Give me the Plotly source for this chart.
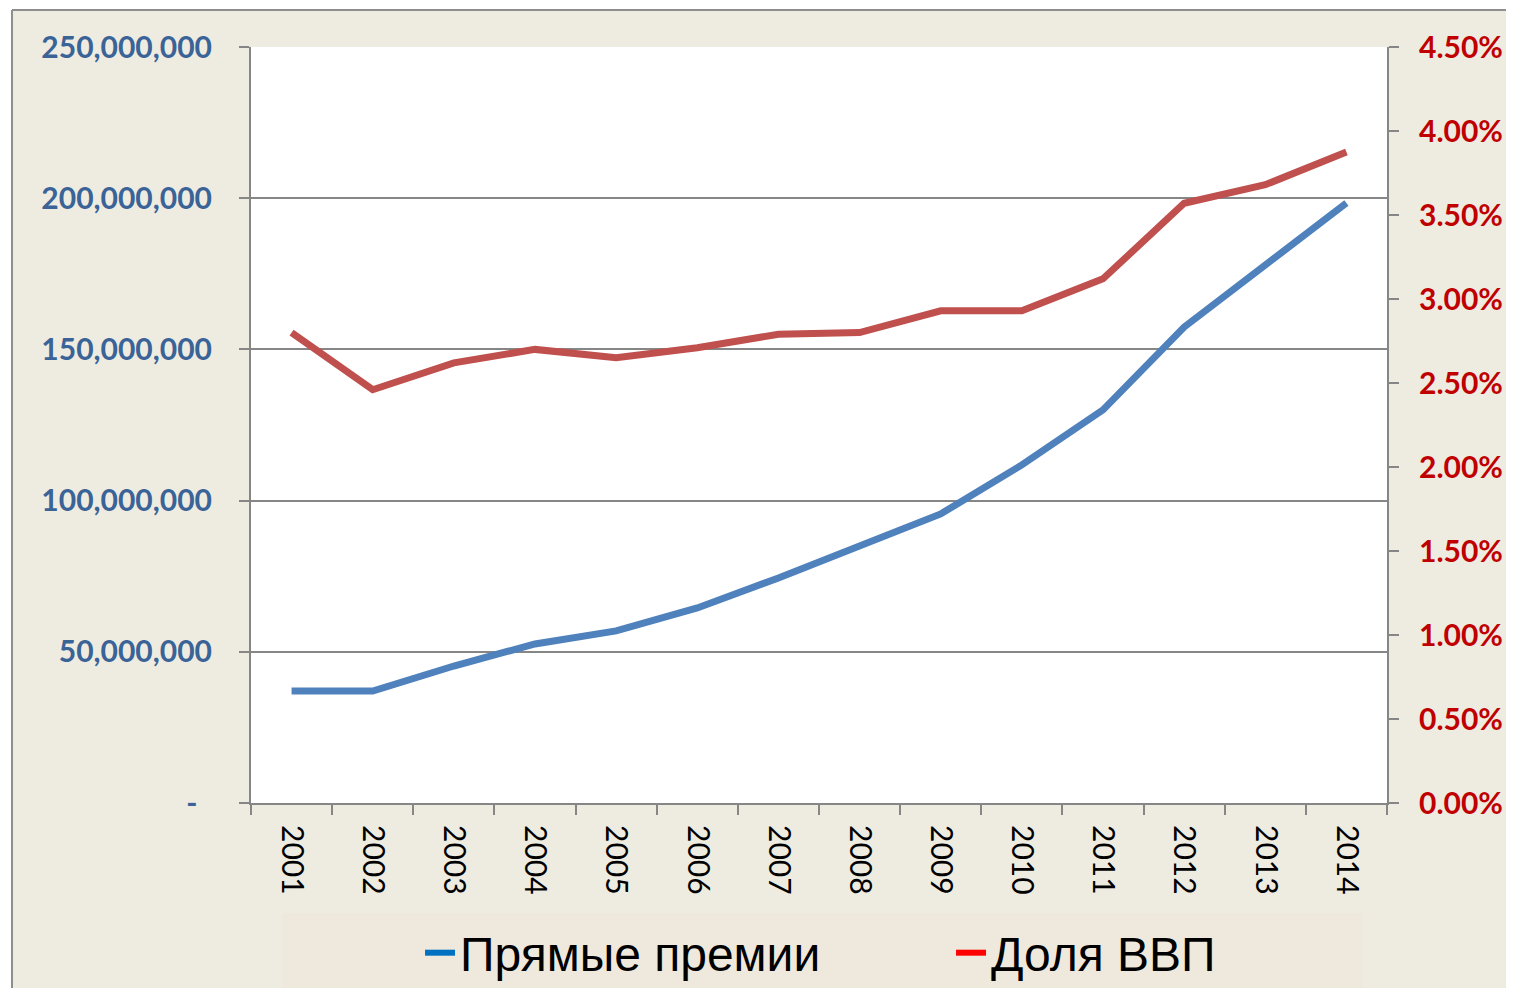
import plotly.graph_objects as go

years = [str(y) for y in range(2001, 2015)]
premiums = [37.0e6, 37.0e6, 45.3e6, 52.6e6, 56.9e6, 64.5e6, 74.4e6, 85.3e6,
            95.6e6, 111.8e6, 130.0e6, 157.4e6, 178.2e6, 198.4e6]
gdp_share = [0.0280, 0.0246, 0.0262, 0.0270, 0.0265, 0.0271, 0.0279, 0.0280,
             0.0293, 0.0293, 0.0312, 0.0357, 0.0368, 0.03875]
series_names = ["Прямые премии", "Доля ВВП"]

left_tickvals = [0, 50e6, 100e6, 150e6, 200e6, 250e6]
left_ticktext = ["-\u00a0\u00a0", "50,000,000", "100,000,000", "150,000,000",
                 "200,000,000", "250,000,000"]
right_tickvals = [0.005 * i for i in range(10)]
right_ticktext = ["%.2f%%" % (v * 100) for v in right_tickvals]

W, H = 1498, 980
L, R, T, B = 243, 119, 39, 185
PW, PH = W - L - R, H - T - B

fig = go.Figure()
fig.add_trace(go.Scatter(x=years, y=premiums, name=series_names[0], mode="lines",
                         line=dict(color="#4F81BD", width=7), showlegend=False))
fig.add_trace(go.Scatter(x=years, y=gdp_share, name=series_names[1], mode="lines",
                         line=dict(color="#C0504D", width=7), yaxis="y2", showlegend=False))
# legend entries (the source chart uses brighter legend swatches)
fig.add_trace(go.Scatter(x=[None], y=[None], name=series_names[0], mode="lines",
                         line=dict(color="#0070C0", width=6), hoverinfo="skip"))
fig.add_trace(go.Scatter(x=[None], y=[None], name=series_names[1], mode="lines",
                         line=dict(color="#FF0000", width=6), yaxis="y2", hoverinfo="skip"))

grid = "#868686"
bx = (4 - L) / PW
by = (T + PH - 2) / PH
fig.update_layout(
    width=W, height=H,
    margin=dict(l=L, r=R, t=T, b=B, autoexpand=False),
    paper_bgcolor="#EEECE1",
    plot_bgcolor="white",
    font=dict(family="Lato", color="black"),
    xaxis=dict(type="category", range=[-0.5, 13.5], tickson="boundaries",
               ticks="outside", ticklen=10, automargin=False, ticklabelstandoff=14,
               tickwidth=2, tickcolor=grid, showline=True, linecolor=grid, linewidth=2,
               showgrid=False, tickangle=90,
               tickfont=dict(family="Lato", size=30, color="black")),
    yaxis=dict(range=[0, 250e6], tickvals=left_tickvals, ticktext=left_ticktext,
               ticks="outside", ticklen=10, tickwidth=2, tickcolor=grid, automargin=False,
               showline=True, linecolor=grid, linewidth=2, zeroline=False,
               showgrid=True, gridcolor=grid, gridwidth=1.5,
               ticklabelstandoff=21,
               tickfont=dict(family="Lato", size=30, color="#3A6397", weight="bold")),
    yaxis2=dict(range=[0, 0.045], tickvals=right_tickvals, ticktext=right_ticktext,
                overlaying="y", side="right", ticks="outside", ticklen=10, tickwidth=2,
                tickcolor=grid, showline=True, linecolor=grid, linewidth=2, automargin=False,
                zeroline=False, showgrid=False, ticklabelstandoff=14,
                tickfont=dict(family="Lato", size=30, color="#C00000", weight="bold")),
    legend=dict(orientation="h", x=0.1488, xanchor="left", y=-0.1984, yanchor="middle",
                bgcolor="rgba(0,0,0,0)",
                font=dict(family="Liberation Sans", size=48, color="black"),
                entrywidth=486, entrywidthmode="pixels"),
    showlegend=True,
    shapes=[
        dict(type="rect", xref="paper", yref="paper", x0=-0.5, x1=bx, y0=-0.5, y1=1.5,
             fillcolor="white", line=dict(width=0), layer="below"),
        dict(type="rect", xref="paper", yref="paper", x0=-0.5, x1=1.5, y0=by, y1=1.5,
             fillcolor="white", line=dict(width=0), layer="below"),
        dict(type="line", xref="paper", yref="paper", x0=bx, x1=bx, y0=-0.5, y1=by,
             line=dict(color="#8E8E8E", width=2), layer="below"),
        dict(type="line", xref="paper", yref="paper", x0=bx, x1=1.5, y0=by, y1=by,
             line=dict(color="#8E8E8E", width=2), layer="below"),
        # legend panel
        dict(type="rect", xref="paper", yref="paper",
             x0=(274 - L) / PW, x1=(1354 - L) / PW,
             y0=(T + PH - 982) / PH, y1=(T + PH - 905) / PH,
             fillcolor="#EFE9DD", line=dict(width=0), layer="below"),
    ],
)

fig.write_html("out.html")
